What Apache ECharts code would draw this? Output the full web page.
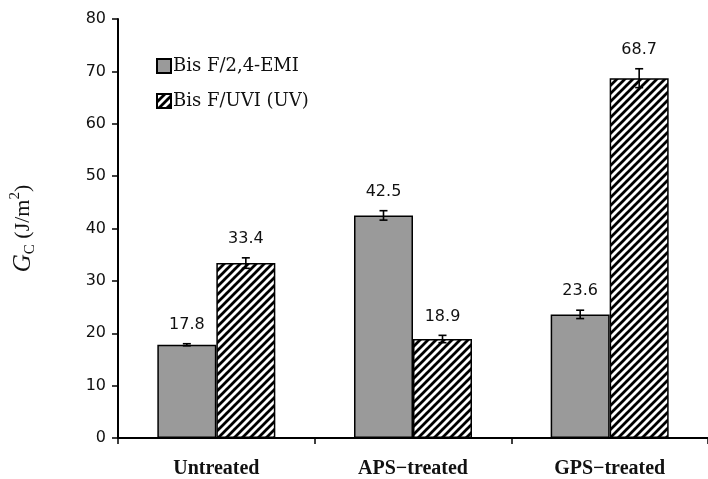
<!DOCTYPE html>
<html>
<head>
<meta charset="utf-8">
<script src="https://cdn.jsdelivr.net/npm/echarts@6/dist/echarts.min.js"></script>
<style>
  html, body { margin: 0; padding: 0; background: #fff; }
  #chart { width: 708px; height: 479px; }
</style>
</head>
<body>
<div id="chart"></div>
<script>
// Fracture energy per surface treatment
const categories = ['Untreated', 'APS\u2212treated', 'GPS\u2212treated'];
const seriesNames = ['Bis F/2,4-EMI', 'Bis F/UVI (UV)'];
const emiValues = [17.8, 42.5, 23.6];
const emiErrors = [0.2, 0.9, 0.8];
const uvValues = [33.4, 18.9, 68.7];
const uvErrors = [1.0, 0.7, 1.8];
const yTicks = [0, 10, 20, 30, 40, 50, 60, 70, 80];

const BAR_W = 59;

// Diagonal hatch fill for the UV series
function hatchCanvas() {
  const s = 8;
  const c = document.createElement('canvas');
  c.width = s; c.height = s;
  const g = c.getContext('2d');
  g.fillStyle = '#ffffff';
  g.fillRect(0, 0, s, s);
  g.strokeStyle = '#000000';
  g.lineWidth = 2.8;
  g.beginPath();
  g.moveTo(-2, s + 2); g.lineTo(s + 2, -2);
  g.moveTo(-s / 2 - 2, s / 2 + 2); g.lineTo(s / 2 + 2, -s / 2 - 2);
  g.moveTo(s / 2 - 2, s * 1.5 + 2); g.lineTo(s * 1.5 + 2, s / 2 - 2);
  g.stroke();
  return c;
}
const hatch = { image: hatchCanvas(), repeat: 'repeat' };

function errorSeries(values, errors, offset) {
  return {
    type: 'custom',
    z: 5,
    silent: true,
    data: values.map((v, i) => [i, v, errors[i]]),
    encode: { x: 0, y: 1 },
    renderItem: function (params, api) {
      const i = api.value(0), v = api.value(1), e = api.value(2);
      const top = api.coord([i, v + e]);
      const bot = api.coord([i, v - e]);
      const x = top[0] + offset;
      const cap = 4;
      const style = { stroke: '#000', lineWidth: 1.6, fill: null };
      return {
        type: 'group',
        children: [
          { type: 'line', shape: { x1: x, y1: top[1], x2: x, y2: bot[1] }, style: style },
          { type: 'line', shape: { x1: x - cap, y1: top[1], x2: x + cap, y2: top[1] }, style: style },
          { type: 'line', shape: { x1: x - cap, y1: bot[1], x2: x + cap, y2: bot[1] }, style: style },
          {
            type: 'text',
            style: {
              x: x, y: top[1] - 19,
              text: v.toFixed(1),
              textAlign: 'center', textVerticalAlign: 'middle',
              font: '16px "DejaVu Sans"', fill: '#111'
            }
          }
        ]
      };
    }
  };
}

const chart = echarts.init(document.getElementById('chart'), null, { renderer: 'canvas' });
chart.setOption({
  animation: false,
  backgroundColor: '#ffffff',
  grid: { left: 101, top: 19, width: 615, height: 420, containLabel: false },
  legend: {
    orient: 'vertical',
    left: 151, top: 52,
    itemWidth: 14, itemHeight: 14, itemGap: 17,
    icon: 'rect',
    textStyle: { fontFamily: '"DejaVu Serif"', fontSize: 18, color: '#111', padding: [0, 0, 0, -3] },
    data: seriesNames
  },
  xAxis: {
    type: 'category',
    data: categories,
    axisLine: { lineStyle: { color: '#000', width: 2 } },
    axisTick: { show: true, length: 6, inside: false, alignWithLabel: false, lineStyle: { color: '#000', width: 1.5 } },
    axisLabel: { fontFamily: '"Liberation Serif"', fontWeight: 'bold', fontSize: 20, color: '#111', margin: 21 },
    splitLine: { show: false }
  },
  yAxis: {
    type: 'value',
    min: yTicks[0], max: yTicks[yTicks.length - 1], interval: 10,
    name: '{g|G}{s|C}{n| (J/m}{p|2}{n|)}',
    nameLocation: 'middle',
    nameRotate: 90,
    nameGap: 80,
    nameTextStyle: {
      rich: {
        g: { fontFamily: '"Liberation Serif"', fontStyle: 'italic', fontSize: 25, color: '#111', lineHeight: 30, verticalAlign: 'middle' },
        s: { fontFamily: '"Liberation Serif"', fontSize: 15, color: '#111', lineHeight: 30, verticalAlign: 'bottom' },
        n: { fontFamily: '"Liberation Serif"', fontSize: 22, color: '#111', lineHeight: 30, verticalAlign: 'middle' },
        p: { fontFamily: '"Liberation Serif"', fontSize: 15, color: '#111', lineHeight: 30, verticalAlign: 'top' }
      }
    },
    axisLine: { show: true, lineStyle: { color: '#000', width: 2 } },
    axisTick: { show: true, length: 6, lineStyle: { color: '#000', width: 1.5 } },
    axisLabel: { fontFamily: '"DejaVu Sans"', fontSize: 16, color: '#111', margin: 12 },
    splitLine: { show: false }
  },
  series: [
    {
      name: seriesNames[0], type: 'bar', data: emiValues,
      barWidth: BAR_W, barGap: '0%',
      itemStyle: { color: '#9a9a9a', borderColor: '#000', borderWidth: 1.5 }
    },
    {
      name: seriesNames[1], type: 'bar', data: uvValues,
      barWidth: BAR_W, barGap: '0%',
      itemStyle: { color: hatch, borderColor: '#000', borderWidth: 1.5 }
    },
    errorSeries(emiValues, emiErrors, -BAR_W / 2),
    errorSeries(uvValues, uvErrors, BAR_W / 2)
  ]
});
</script>
</body>
</html>
